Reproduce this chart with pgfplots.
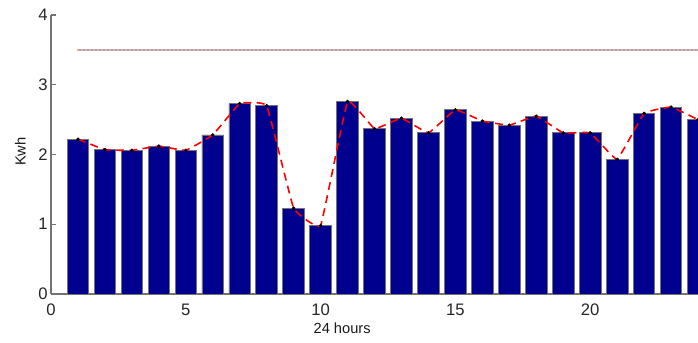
\documentclass[border=0pt]{standalone}
\usepackage{pgfplots}
\pgfplotsset{compat=1.18}
\usepackage{pgfplotstable}
\usepackage{fontspec}
\setmainfont{Liberation Sans}

\definecolor{barblue}{rgb}{0,0,0.56}
\definecolor{axisgray}{rgb}{0.45,0.45,0.45}
\definecolor{reflineA}{rgb}{0.62,0.62,0.88}
\definecolor{reflineB}{rgb}{0.95,0.7,0.45}

% hourly energy use
\pgfplotstableread{
hour kwh
1 2.22
2 2.07
3 2.06
4 2.12
5 2.06
6 2.28
7 2.73
8 2.70
9 1.23
10 0.98
11 2.76
12 2.37
13 2.52
14 2.31
15 2.64
16 2.48
17 2.42
18 2.55
19 2.31
20 2.31
21 1.93
22 2.59
23 2.68
24 2.50
}\hourly

\begin{document}
\begin{tikzpicture}
\path[use as bounding box] (-38.25pt,-36pt) rectangle (485.25pt,220.5pt);
\begin{axis}[
  at={(0,0)}, anchor=south west,
  scale only axis,
  width=485.25pt, height=209.25pt,
  xmin=0, xmax=24, ymin=0, ymax=4,
  axis x line*=bottom, axis y line*=left,
  axis line style={axisgray, line width=0.8pt, -},
  xtick={0,5,10,15,20}, ytick={0,1,2,3,4},
  tick align=inside,
  major tick length=4pt,
  tick style={axisgray, line width=0.8pt},
  ticklabel style={font=\fontsize{12.5}{14}\selectfont, text=black!85},
  /pgf/number format/assume math mode=true,
  xticklabel style={yshift=-4pt},
  yticklabel style={xshift=1pt},
  xlabel={24 hours}, ylabel={Kwh},
  label style={font=\fontsize{11}{13}\selectfont, text=black!90},
  x label style={at={(axis description cs:0.45,0)}, anchor=center, yshift=-26pt},
  y label style={at={(axis description cs:0,0.51)}, anchor=center, rotate=0, yshift=23pt},
]
\addplot[ybar, bar width=0.8, fill=barblue, draw=black!55, line width=0.6pt]
  table[x=hour, y=kwh] {\hourly};
\addplot[reflineA, line width=1.2pt] coordinates {(0.95,3.5) (25,3.5)};
\addplot[reflineB, line width=1.2pt, dash pattern=on 1.5pt off 1.5pt] coordinates {(0.95,3.5) (25,3.5)};
\addplot[red, line width=1.2pt, dash pattern=on 6pt off 4pt, smooth, tension=0.15]
  table[x=hour, y=kwh] {\hourly};
\addplot[only marks, mark=*, mark size=1.1pt, black]
  table[x=hour, y=kwh] {\hourly};
\end{axis}
\end{tikzpicture}
\end{document}
